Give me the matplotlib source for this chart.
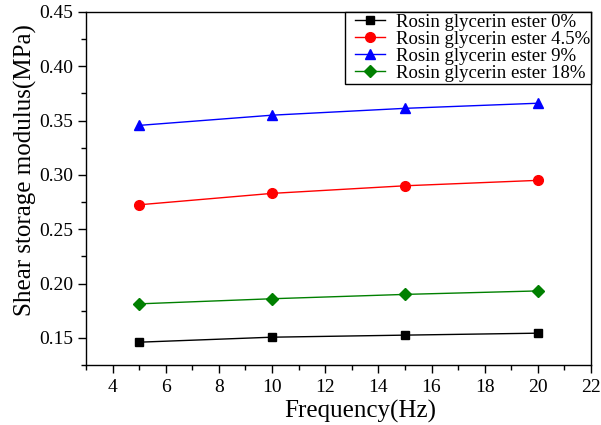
import matplotlib
matplotlib.use("Agg")
import matplotlib.pyplot as plt
from matplotlib.patches import Rectangle
from matplotlib.ticker import MultipleLocator

plt.rcParams['font.family'] = ['Liberation Serif', 'DejaVu Serif']
plt.rcParams['mathtext.fontset'] = 'stix'

frequency = [5, 10, 15, 20]
ester_0 = [0.146, 0.1506, 0.1525, 0.1543]
ester_4_5 = [0.2725, 0.283, 0.290, 0.295]
ester_9 = [0.3456, 0.355, 0.3613, 0.366]
ester_18 = [0.1813, 0.186, 0.190, 0.1932]

labels = ["Rosin glycerin ester 0%", "Rosin glycerin ester 4.5%",
          "Rosin glycerin ester 9%", "Rosin glycerin ester 18%"]
colors = ["black", "red", "blue", "green"]
markers = ["s", "o", "^", "D"]
sizes = [6, 7, 7.5, 6]

W, H = 601, 425
fig = plt.figure(figsize=(W / 100, H / 100), dpi=100)
ax = fig.add_axes([86 / W, 1 - 365 / H, (591 - 86) / W, (365 - 12) / H])

for ys, lab, c, m, s in zip([ester_0, ester_4_5, ester_9, ester_18], labels, colors, markers, sizes):
    ax.plot(frequency, ys, color=c, marker=m, markersize=s, linewidth=1, label=lab)

ax.set_xlim(3, 22)
ax.set_ylim(0.125, 0.45)
ax.xaxis.set_minor_locator(MultipleLocator(1))
ax.yaxis.set_minor_locator(MultipleLocator(0.025))
ax.set_xticks([4, 6, 8, 10, 12, 14, 16, 18, 20, 22])
ax.set_yticks([0.15, 0.20, 0.25, 0.30, 0.35, 0.40, 0.45])
ax.set_yticklabels(["0.15", "0.20", "0.25", "0.30", "0.35", "0.40", "0.45"])
ax.tick_params(which='both', direction='out', top=False, right=False, labelsize=14)
ax.tick_params(which='major', length=6, width=1, pad=3)
ax.tick_params(which='minor', length=3.5, width=1)
ax.tick_params(axis='x', which='major', pad=4)
for sp in ax.spines.values():
    sp.set_linewidth(1)

ax.set_xlabel("Frequency(Hz)", fontsize=18, labelpad=3)
ax.xaxis.label.set_x(0.5426)
ax.set_ylabel("Shear storage modulus(MPa)", fontsize=18)
ax.yaxis.set_label_coords(-0.098, 0.552)

# Legend without its own frame; a box with wider left padding is drawn around it
leg = ax.legend(loc='upper right', bbox_to_anchor=(1 - 1 / 505, 1 - 1.5 / 353),
                fontsize=13.5, frameon=False, borderaxespad=0, borderpad=0,
                labelspacing=0.0, handlelength=1.6, handletextpad=0.55)

fig.canvas.draw()
bb = leg.get_window_extent().transformed(fig.transFigure.inverted())
axbb = ax.get_position()
padl, pady = 10 / W, 1.5 / H
x0 = bb.x0 - padl
frame = Rectangle((x0, bb.y0 - pady), axbb.x1 - x0, axbb.y1 - (bb.y0 - pady),
                  transform=fig.transFigure, facecolor='white', edgecolor='black',
                  linewidth=1, zorder=4)
fig.add_artist(frame)
leg.set_zorder(5)
leg.remove()
fig.add_artist(leg)

fig.savefig("out.png", dpi=100)
